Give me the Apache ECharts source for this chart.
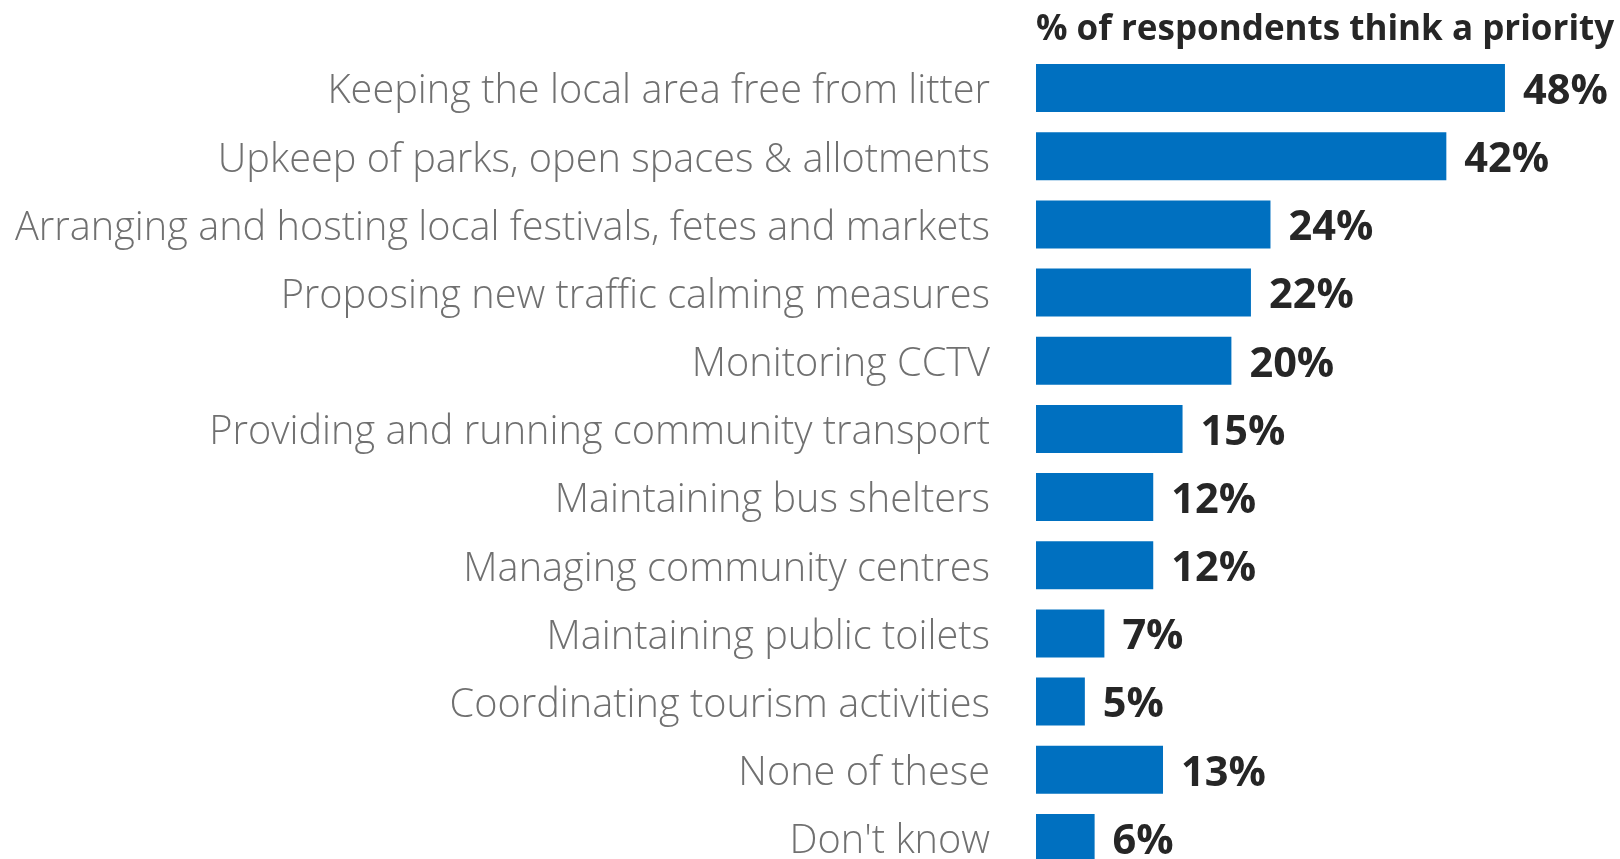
<!DOCTYPE html>
<html>
<head>
<meta charset="utf-8">
<script src="https://cdn.jsdelivr.net/npm/echarts@6/dist/echarts.min.js"></script>
<style>html,body{margin:0;padding:0;background:#fff}#c{width:1620px;height:859px}</style>
</head>
<body>
<div id="c"></div>
<script>
const categories = [
  "Keeping the local area free from litter",
  "Upkeep of parks, open spaces & allotments",
  "Arranging and hosting local festivals, fetes and markets",
  "Proposing new traffic calming measures",
  "Monitoring CCTV",
  "Providing and running community transport",
  "Maintaining bus shelters",
  "Managing community centres",
  "Maintaining public toilets",
  "Coordinating tourism activities",
  "None of these",
  "Don't know"
];
const values = [48, 42, 24, 22, 20, 15, 12, 12, 7, 5, 13, 6];
const titleText = "% of respondents think a priority";

const chart = echarts.init(document.getElementById('c'));
chart.setOption({
  animation: false,
  title: {
    text: titleText,
    left: 1031, top: 8,
    textStyle: {fontFamily: 'Open Sans', fontWeight: 'bold', fontSize: 35, color: '#262626'}
  },
  grid: {left: 1036, top: 54, width: 488.5, height: 818, outerBoundsMode: 'none', containLabel: false},
  xAxis: {type: 'value', min: 0, max: 50, show: false},
  yAxis: {
    type: 'category', data: categories, inverse: true,
    axisLine: {show: false}, axisTick: {show: false},
    axisLabel: {
      margin: 46, formatter: '{a|{value}}',
      rich: {a: {fontFamily: 'Open Sans', fontWeight: 300, fontSize: 39.7, color: '#707070', padding: [8, 0, 0, 0]}}
    }
  },
  series: [{
    type: 'bar', data: values, barWidth: 48,
    itemStyle: {color: '#0070C0'},
    label: {show: true, position: 'right', distance: 18, offset: [0, 4], formatter: '{c}%',
      fontFamily: 'Open Sans', fontWeight: 'bold', fontSize: 41.5, color: '#262626'}
  }]
});
</script>
</body>
</html>
